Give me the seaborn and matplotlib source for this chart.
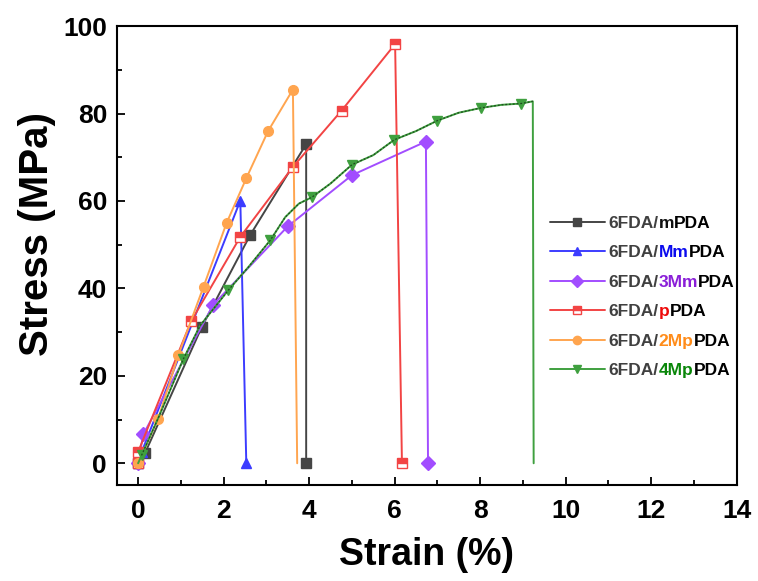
import numpy as np
import pandas as pd
import matplotlib
matplotlib.use("Agg")
import matplotlib.pyplot as plt
from matplotlib.lines import Line2D
from matplotlib.ticker import MultipleLocator
import seaborn as sns

# ---- data (strain %, stress MPa) ---------------------------------------------
m_x = [0, 0.16, 1.49, 2.62, 3.93, 3.93]
m_y = [0, 2.3, 31.2, 52.2, 73.0, 0]

mm_x = [0, 0.08, 2.39, 2.53]
mm_y = [0, 2.5, 60.1, 0]

m3_x = [0, 0.12, 1.76, 3.50, 5.00, 6.73, 6.78]
m3_y = [0, 6.6, 36.3, 54.2, 65.9, 73.6, 0]

p_x = [0, 0, 1.24, 2.39, 3.62, 4.76, 6.01, 6.17]
p_y = [0, 2.6, 32.5, 51.8, 67.8, 80.7, 95.9, 0]

mp2_x = [0, 0.47, 0.94, 1.53, 2.07, 2.53, 3.04, 3.62, 3.72]
mp2_y = [0, 10.2, 24.7, 40.4, 55.0, 65.2, 76.0, 85.5, 0]

mp4_x = [0, 0.08, 0.5, 1.06, 1.45, 2.11, 2.58, 3.09, 3.44, 3.76, 4.07, 4.5,
         5.0, 5.5, 5.99, 6.5, 7.0, 7.5, 8.02, 8.5, 8.96, 9.23, 9.25]
mp4_y = [0, 1.8, 11.0, 23.9, 31.5, 39.6, 44.9, 51.0, 56.3, 59.4, 60.9, 64.0,
         68.3, 70.5, 74.0, 76.0, 78.4, 80.2, 81.3, 82.0, 82.3, 82.8, 0]
mp4_marks = [1, 3, 5, 7, 10, 12, 14, 16, 18, 20]

# legend label pieces: prefix (grey), coloured part, suffix (black)
label_mid = ["m", "Mm", "3Mm", "p", "2Mp", "4Mp"]
label_mid_colors = ["#111111", "#0a0aee", "#8a1fd8", "#ee0a0a", "#ff8c1a", "#0a870a"]

series = [
    dict(x=m_x, y=m_y, color="#454545", marker="s", every=None, fill="full"),
    dict(x=mm_x, y=mm_y, color="#3c3cff", marker="^", every=None, fill="full"),
    dict(x=m3_x, y=m3_y, color="#a24dff", marker="D", every=None, fill="full"),
    dict(x=p_x, y=p_y, color="#f24444", marker="s", every=None, fill="top"),
    dict(x=mp2_x, y=mp2_y, color="#ffa54f", marker="o", every=list(range(8)), fill="full"),
    dict(x=mp4_x, y=mp4_y, color="#3fa03f", marker="v", every=mp4_marks, fill="full"),
]

sns.set_theme(style="ticks")
plt.rcParams["font.family"] = ["Liberation Sans", "DejaVu Sans"]
plt.rcParams["font.weight"] = "bold"

fig, ax = plt.subplots(figsize=(7.58, 5.81), dpi=100)
fig.subplots_adjust(left=0.154, right=0.972, top=0.955, bottom=0.165)

handles = []
for s in series:
    df = pd.DataFrame({"x": s["x"], "y": s["y"]})
    sns.lineplot(data=df, x="x", y="y", sort=False, estimator=None, ax=ax,
                 color=s["color"], lw=1.4, marker=s["marker"], markersize=7,
                 markevery=s["every"], fillstyle=s["fill"],
                 markerfacecolor=s["color"], markerfacecoloralt="white",
                 markeredgecolor=s["color"], markeredgewidth=1.0)
    handles.append(Line2D([0], [0], color=s["color"], lw=1.4, marker=s["marker"],
                          markersize=6, fillstyle=s["fill"],
                          markerfacecolor=s["color"], markerfacecoloralt="white",
                          markeredgecolor=s["color"], markeredgewidth=1.0))

# dark dotted overlay on the dense 4MpPDA trace
ov = pd.DataFrame({"x": mp4_x[1:-1], "y": mp4_y[1:-1]})
sns.lineplot(data=ov, x="x", y="y", sort=False, estimator=None, ax=ax,
             color="#1f4a1f", lw=0.9, dashes=False, linestyle=(0, (1.5, 1.5)))

ax.set_xlim(-0.5, 14)
ax.set_ylim(-5, 100)
ax.xaxis.set_major_locator(MultipleLocator(2))
ax.xaxis.set_minor_locator(MultipleLocator(1))
ax.yaxis.set_major_locator(MultipleLocator(20))
ax.yaxis.set_minor_locator(MultipleLocator(10))
ax.tick_params(which="both", direction="in", width=1.3, colors="black",
               labelsize=19)
ax.tick_params(axis="x", pad=10)
ax.tick_params(axis="y", pad=7)
ax.tick_params(which="major", length=6)
ax.tick_params(which="minor", length=3.5)
for lab in ax.get_xticklabels() + ax.get_yticklabels():
    lab.set_fontweight("bold")
for sp in ax.spines.values():
    sp.set_visible(True)
    sp.set_linewidth(1.5)
    sp.set_color("black")

ax.set_xlabel("Strain (%)", fontsize=27, fontweight="bold", labelpad=10,
              color="black")
ax.set_ylabel("Stress (MPa)", fontsize=29, fontweight="bold", color="black")
ax.yaxis.set_label_coords(-0.098, 0.547)

leg = ax.legend(handles, ["6FDA/"] * len(handles), loc="center left",
                bbox_to_anchor=(0.698, 0.41), frameon=False, borderpad=0,
                borderaxespad=0, handlelength=3.2, handletextpad=0.2,
                labelspacing=0.82, prop=dict(family="Liberation Sans",
                                             weight="bold", size=12.5))
for txt, mid, mc in zip(leg.get_texts(), label_mid, label_mid_colors):
    txt.set_color("#404040")
    a = ax.annotate(mid, xy=(1, 0), xycoords=txt, va="bottom", ha="left",
                    color=mc, fontsize=12.5, fontweight="bold",
                    family="Liberation Sans", zorder=10)
    ax.annotate("PDA", xy=(1, 0), xycoords=a, va="bottom", ha="left",
                color="black", fontsize=12.5, fontweight="bold",
                family="Liberation Sans", zorder=11)

fig.savefig("out.png", dpi=100)
